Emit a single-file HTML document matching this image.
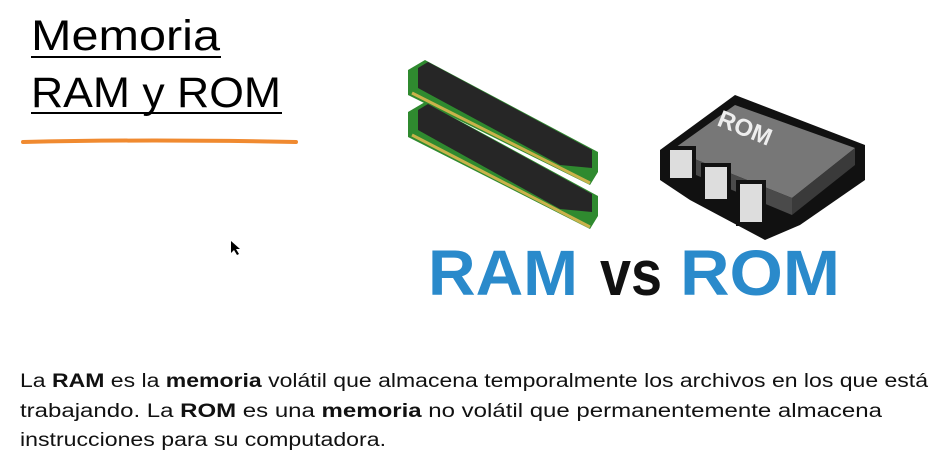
<!DOCTYPE html>
<html><head><meta charset="utf-8"><style>
html,body{margin:0;padding:0;background:#fff;width:942px;height:461px;overflow:hidden}
</style></head><body>
<svg width="942" height="461" xmlns="http://www.w3.org/2000/svg" font-family="Liberation Sans, sans-serif">
<rect width="942" height="461" fill="#fff"/>
<text x="31" y="50" font-size="43" textLength="189" lengthAdjust="spacingAndGlyphs">Memoria</text>
<rect x="31" y="56" width="190" height="2" fill="#000"/>
<text x="31" y="107" font-size="43" textLength="250" lengthAdjust="spacingAndGlyphs">RAM y ROM</text>
<rect x="31" y="112" width="251" height="2" fill="#000"/>
<path d="M23 142 Q150 139 296 142" stroke="#f08a30" stroke-width="4" fill="none" stroke-linecap="round"/>
<path d="M231 241 l0 12 l3 -3 l3 5 l2 -1 l-3 -5 l4 0 z" fill="#000"/>
<!-- RAM sticks -->
<g>
<polygon points="408,70 425,60 598,152 598,172 590,185 408,95" fill="#2f8a2f"/>
<polygon points="418,68 428,62 592,150 592,168 560,165 418,88" fill="#262626"/>
<line x1="412" y1="93" x2="590" y2="183" stroke="#c9b24a" stroke-width="3"/>
<polygon points="408,112 425,102 598,196 598,216 590,229 408,137" fill="#2f8a2f"/>
<polygon points="418,110 428,104 592,194 592,212 560,209 418,130" fill="#262626"/>
<line x1="412" y1="135" x2="590" y2="227" stroke="#c9b24a" stroke-width="3"/>
</g>
<!-- ROM chip -->
<g>
<polygon points="660,150 735,95 865,145 865,180 800,225 765,240 690,200 660,180" fill="#111"/>
<polygon points="672,150 735,105 855,148 792,198" fill="#777"/>
<polygon points="672,150 792,198 792,215 672,165" fill="#4a4a4a"/>
<polygon points="792,198 855,148 855,165 792,215" fill="#3a3a3a"/>
<rect x="668" y="148" width="26" height="32" fill="#ddd" stroke="#111" stroke-width="4"/>
<rect x="703" y="165" width="26" height="36" fill="#ddd" stroke="#111" stroke-width="4"/>
<rect x="738" y="182" width="26" height="42" fill="#ddd" stroke="#111" stroke-width="4"/>
<text x="0" y="0" font-size="24" font-weight="bold" fill="#eee" transform="translate(716,125) rotate(22)">ROM</text>
</g>
<text x="428" y="295" font-size="64" font-weight="bold" fill="#2a8acb" textLength="150" lengthAdjust="spacingAndGlyphs">RAM</text>
<text x="600" y="295" font-size="64" font-weight="bold" fill="#111" textLength="62" lengthAdjust="spacingAndGlyphs">vs</text>
<text x="680" y="295" font-size="64" font-weight="bold" fill="#2a8acb" textLength="160" lengthAdjust="spacingAndGlyphs">ROM</text>
<g font-size="19" fill="#111">
<text x="20" y="387" textLength="908" lengthAdjust="spacingAndGlyphs">La <tspan font-weight="bold">RAM</tspan> es la <tspan font-weight="bold">memoria</tspan> volátil que almacena temporalmente los archivos en los que está</text>
<text x="20" y="417" textLength="862" lengthAdjust="spacingAndGlyphs">trabajando. La <tspan font-weight="bold">ROM</tspan> es una <tspan font-weight="bold">memoria</tspan> no volátil que permanentemente almacena</text>
<text x="20" y="446" textLength="366" lengthAdjust="spacingAndGlyphs">instrucciones para su computadora.</text>
</g>
</svg>
</body></html>
